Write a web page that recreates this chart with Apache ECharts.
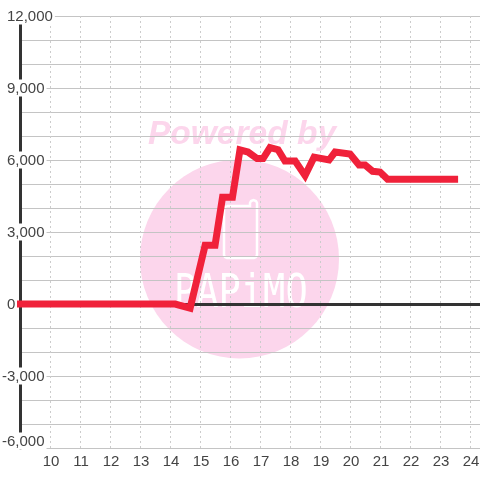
<!DOCTYPE html>
<html>
<head>
<meta charset="utf-8">
<script src="https://cdn.jsdelivr.net/npm/echarts@6/dist/echarts.min.js"></script>
<style>
html, body { margin: 0; padding: 0; background: #fff; }
#chart { width: 480px; height: 480px; }
</style>
</head>
<body>
<div id="chart"></div>
<script>
// hour of day / value
const hours = [8.9, 14.17, 14.67, 15.17, 15.5, 15.75, 16.08, 16.33, 16.6, 16.9, 17.1, 17.33, 17.6, 17.83, 18.17, 18.5, 18.8, 19.3, 19.5, 20.0, 20.3, 20.5, 20.75, 21.0, 21.25, 23.6];
const values = [0, 0, -170, 2450, 2450, 4450, 4450, 6420, 6330, 6060, 6060, 6520, 6430, 5960, 5960, 5350, 6120, 6000, 6330, 6250, 5790, 5790, 5530, 5500, 5200, 5200];
const xMin = 9;
const xMax = 24.33;
const yMin = -6000;
const yMax = 12000;
const yStep = 3000;

const chart = echarts.init(document.getElementById('chart'), null, { renderer: 'canvas' });

const pink = '#fcd6ec';

const option = {
  animation: false,
  backgroundColor: '#fff',
  grid: { left: 20, right: 0, top: 16, bottom: 32, outerBoundsMode: 'none' },
  graphic: [
    { type: 'circle', z: -1, shape: { cx: 239.5, cy: 259, r: 99.5 }, style: { fill: pink } },
    { type: 'text', z: -1, x: 148, y: 118, style: { text: 'Powered by', fill: pink, font: 'italic bold 33.5px "Liberation Sans"' } },
    {
      // phone outline of the watermark
      type: 'polyline', z: -1,
      shape: { points: [[227, 206], [250, 206], [250, 203], [251, 201], [253.5, 200], [256, 201], [257, 203], [257, 255], [256, 257], [254, 258], [227, 258], [225, 257], [224, 255], [224, 209], [225, 207], [227, 206]] },
      style: { fill: 'none', stroke: '#fff', lineWidth: 2.5 }
    },
    { type: 'text', z: -1, x: 174, y: 272, scaleY: 1.25, style: { text: 'PAPiMO', fill: '#fff', font: '37px "DejaVu Sans Mono"' } }
  ],
  xAxis: [
    {
      type: 'value', min: xMin, max: xMax, interval: 1, position: 'bottom',
      axisLine: { show: false, onZero: false },
      axisTick: { show: false },
      axisLabel: {
        color: '#444', fontSize: 15, fontFamily: 'Liberation Sans', margin: 6, padding: [0, 0, 0, 2],
        formatter: v => (v === xMin || v === xMax) ? '' : String(v)
      },
      splitLine: { show: true, lineStyle: { color: '#ccc', width: 1, type: [2, 3] } }
    },
    {
      // dark line at value 0, labels stay on the bottom axis
      type: 'value', min: xMin, max: xMax, interval: 1, position: 'top',
      axisLine: { show: true, onZero: true, lineStyle: { color: '#333', width: 3 } },
      axisTick: { show: false },
      axisLabel: { show: false },
      splitLine: { show: false }
    }
  ],
  yAxis: {
    type: 'value', min: yMin, max: yMax, interval: yStep,
    axisLine: { show: true, onZero: false, lineStyle: { color: '#333', width: 3 } },
    axisTick: { show: false },
    minorTick: { show: false, splitNumber: 3 },
    minorSplitLine: { show: true, lineStyle: { color: '#c4c4c4', width: 1 } },
    splitLine: { show: true, lineStyle: { color: '#c4c4c4', width: 1 } },
    axisLabel: {
      align: 'left', margin: 18,
      verticalAlignMinLabel: 'bottom',
      formatter: v => {
        const s = v.toLocaleString('en-US');
        return v < 0 ? '{t|' + s + '}' : '{s|}{t|' + s + '}';
      },
      rich: {
        t: { color: '#444', fontSize: 15, fontFamily: 'Liberation Sans', backgroundColor: '#fff', padding: [2, 2, 0, 0], lineHeight: 14 },
        s: { width: 5 }
      }
    }
  },
  series: [{
    type: 'line',
    xAxisIndex: 0,
    data: hours.map((h, i) => [h, values[i]]),
    showSymbol: false,
    clip: false,
    lineStyle: { color: '#f0213a', width: 7, join: 'miter', cap: 'butt' }
  }]
};
chart.setOption(option);
</script>
</body>
</html>
